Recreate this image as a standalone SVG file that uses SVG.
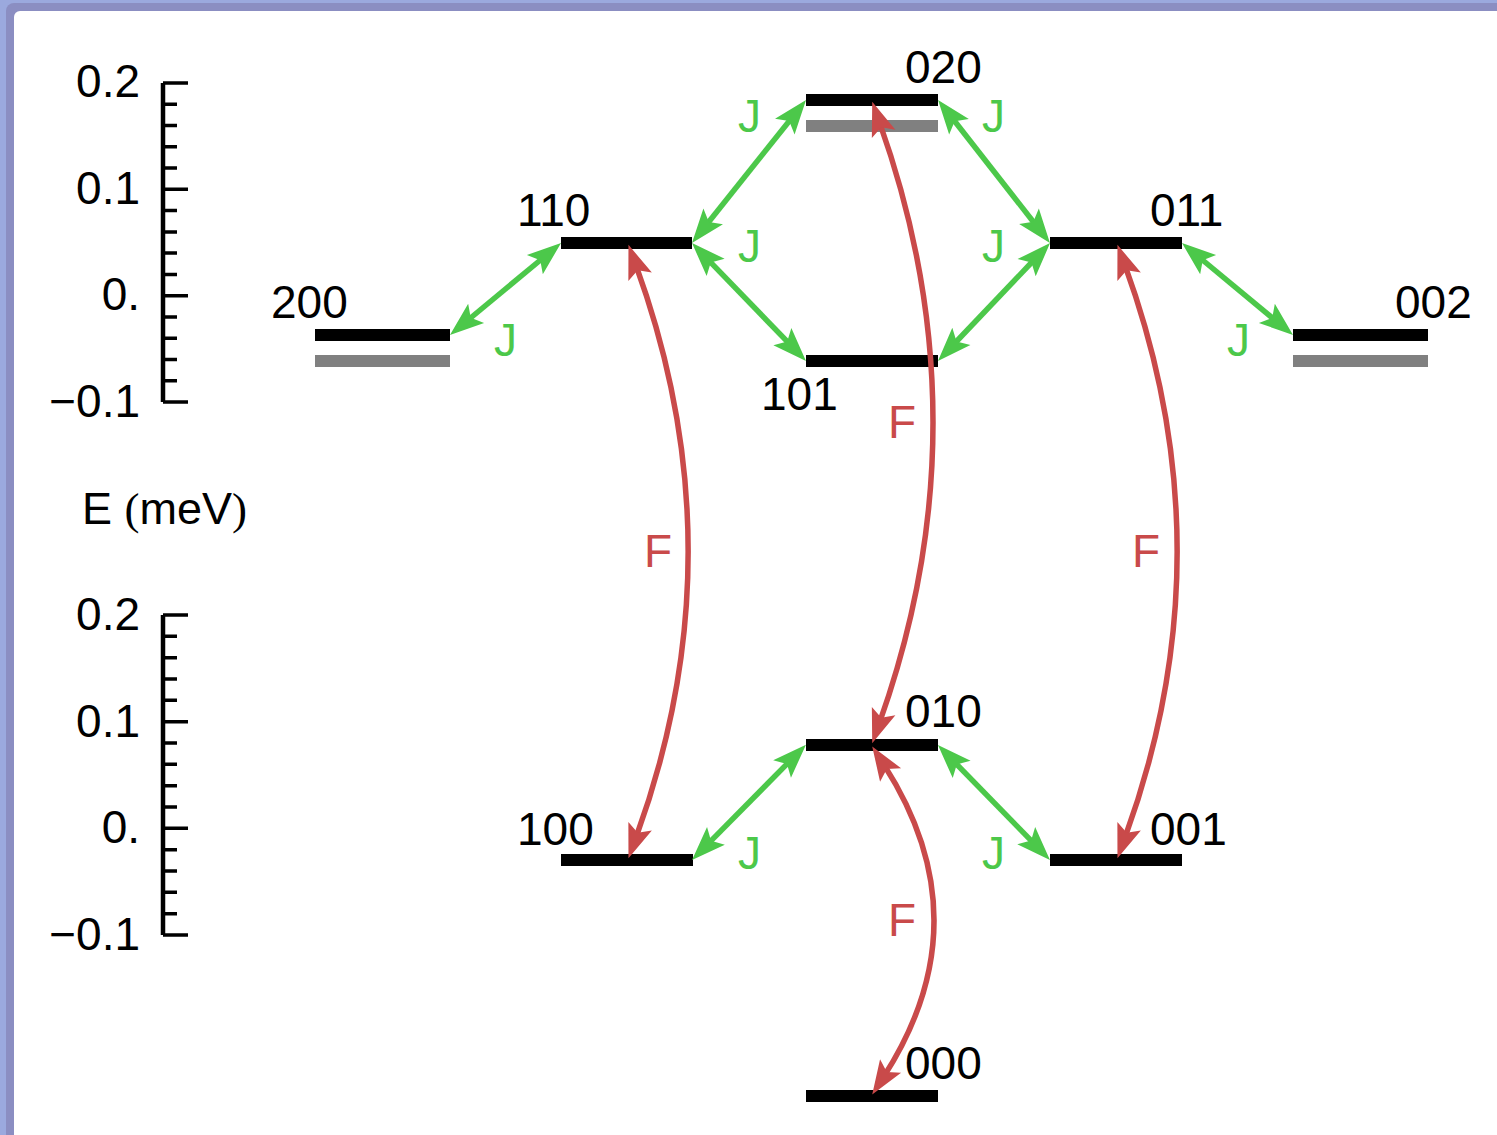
<svg xmlns="http://www.w3.org/2000/svg" width="1497" height="1135" viewBox="0 0 1497 1135">
<style>
.lbl{font-family:"Liberation Sans",Arial,sans-serif;font-size:46px;fill:#000}
.tl{font-family:"Liberation Sans",Arial,sans-serif;font-size:46px;fill:#000;text-anchor:end}
.j{font-family:"Liberation Sans",Arial,sans-serif;font-size:46px;fill:#4cc84a}
.f{font-family:"Liberation Sans",Arial,sans-serif;font-size:46px;fill:#c94a4a}
.bar{fill:#000}
.gbar{fill:#808080}
.ax{stroke:#000;stroke-width:4.5;fill:none}
.tk{stroke:#000;stroke-width:3.5}
.jc{stroke:#4cc84a;stroke-width:5.5;fill:none;marker-start:url(#gh);marker-end:url(#gh)}
.fc{stroke:#c94a4a;stroke-width:5.5;fill:none;marker-start:url(#rh);marker-end:url(#rh)}
</style>
<defs>
<marker id="gh" markerUnits="userSpaceOnUse" viewBox="-36 -14 38 28" markerWidth="38" markerHeight="28" refX="-22" refY="0" orient="auto-start-reverse">
<path d="M0,0 L-34,-12.5 L-27,0 L-34,12.5 Z" fill="#4cc84a"/>
</marker>
<marker id="rh" markerUnits="userSpaceOnUse" viewBox="-36 -14 38 28" markerWidth="38" markerHeight="28" refX="-22" refY="0" orient="auto-start-reverse">
<path d="M0,0 L-34,-12.5 L-27,0 L-34,12.5 Z" fill="#c94a4a"/>
</marker>
</defs>
<g id="frame">
<rect x="0" y="0" width="1497" height="1135" fill="#9ba9de"/>
<rect x="6" y="3" width="1520" height="1160" rx="8" fill="#8b8ec2"/>
<rect x="14" y="11" width="1520" height="1160" rx="6" fill="#ffffff"/>
</g>
<g id="axis-top">
<path class="ax" d="M163,83 V402"/>
<path class="tk" d="M163,83H188M163,104.3H177M163,125.5H177M163,146.8H177M163,168.1H177M163,189.3H188M163,210.6H177M163,231.9H177M163,253.1H177M163,274.4H177M163,295.7H188M163,316.9H177M163,338.2H177M163,359.5H177M163,380.7H177M163,402H188"/>
<text class="tl" x="140" y="97">0.2</text>
<text class="tl" x="140" y="204">0.1</text>
<text class="tl" x="140" y="310">0.</text>
<text class="tl" x="140" y="417">−0.1</text>
</g>
<g id="axis-bottom">
<path class="ax" d="M163,615 V935"/>
<path class="tk" d="M163,615H188M163,636.3H177M163,657.7H177M163,679H177M163,700.3H177M163,721.7H188M163,743H177M163,764.3H177M163,785.7H177M163,807H177M163,828.3H188M163,849.7H177M163,871H177M163,892.3H177M163,913.7H177M163,935H188"/>
<text class="tl" x="140" y="630">0.2</text>
<text class="tl" x="140" y="737">0.1</text>
<text class="tl" x="140" y="843">0.</text>
<text class="tl" x="140" y="950">−0.1</text>
</g>
<g id="axis-title">
<text x="82" y="524" font-family="Liberation Sans, Arial, sans-serif" font-size="45" fill="#000">E <tspan font-family="Liberation Serif, Times New Roman, serif">(</tspan>meV<tspan font-family="Liberation Serif, Times New Roman, serif">)</tspan></text>
</g>
<g id="level-020">
<rect class="bar" x="806" y="94" width="132" height="12"/>
<rect class="gbar" x="806" y="120" width="132" height="12"/>
<text class="lbl" x="905" y="83">020</text>
</g>
<g id="level-110">
<rect class="bar" x="561" y="237" width="131" height="12"/>
<text class="lbl" x="517" y="226">110</text>
</g>
<g id="level-011">
<rect class="bar" x="1050" y="237" width="132" height="12"/>
<text class="lbl" x="1150" y="226">011</text>
</g>
<g id="level-200">
<rect class="bar" x="315" y="329" width="135" height="12"/>
<rect class="gbar" x="315" y="355" width="135" height="12"/>
<text class="lbl" x="271" y="318">200</text>
</g>
<g id="level-002">
<rect class="bar" x="1293" y="329" width="135" height="12"/>
<rect class="gbar" x="1293" y="355" width="135" height="12"/>
<text class="lbl" x="1395" y="318">002</text>
</g>
<g id="level-101">
<rect class="bar" x="806" y="355" width="132" height="12"/>
<text class="lbl" x="761" y="410">101</text>
</g>
<g id="level-010">
<rect class="bar" x="806" y="739" width="132" height="12"/>
<text class="lbl" x="905" y="727">010</text>
</g>
<g id="level-100">
<rect class="bar" x="561" y="854" width="132" height="12"/>
<text class="lbl" x="517" y="845">100</text>
</g>
<g id="level-001">
<rect class="bar" x="1050" y="854" width="132" height="12"/>
<text class="lbl" x="1150" y="845">001</text>
</g>
<g id="level-000">
<rect class="bar" x="806" y="1090" width="132" height="12"/>
<text class="lbl" x="905" y="1079">000</text>
</g>
<g id="connectors">
<path class="jc" d="M466.9,321 L544.1,257"/>
<path class="jc" d="M705.7,225.8 L792.3,117.2"/>
<path class="jc" d="M707.3,258.8 L790.7,345.2"/>
<path class="jc" d="M951.6,117.3 L1036.4,225.7"/>
<path class="jc" d="M953.1,345 L1034.9,259"/>
<path class="jc" d="M1198.9,257 L1276.1,321"/>
<path class="jc" d="M707.5,844.4 L790.5,760.4"/>
<path class="jc" d="M953.3,760.8 L1034.6,844.2"/>
<path class="fc" d="M636,265.5 Q740.3,551.5 636,837.5"/>
<path class="fc" d="M879.6,122.6 Q986.4,422.5 879.6,722.4"/>
<path class="fc" d="M1125,265.5 Q1229.3,551.5 1125,837.5"/>
<path class="fc" d="M884.1,764.9 Q983.9,920.5 884.1,1076.1"/>
<text class="j" x="738" y="132">J</text>
<text class="j" x="982" y="132">J</text>
<text class="j" x="738" y="262">J</text>
<text class="j" x="982" y="262">J</text>
<text class="j" x="494" y="356">J</text>
<text class="j" x="1227" y="356">J</text>
<text class="j" x="738" y="869">J</text>
<text class="j" x="982" y="869">J</text>
<text class="f" x="644" y="567">F</text>
<text class="f" x="888" y="438">F</text>
<text class="f" x="1132" y="567">F</text>
<text class="f" x="888" y="936">F</text>
</g>
</svg>
